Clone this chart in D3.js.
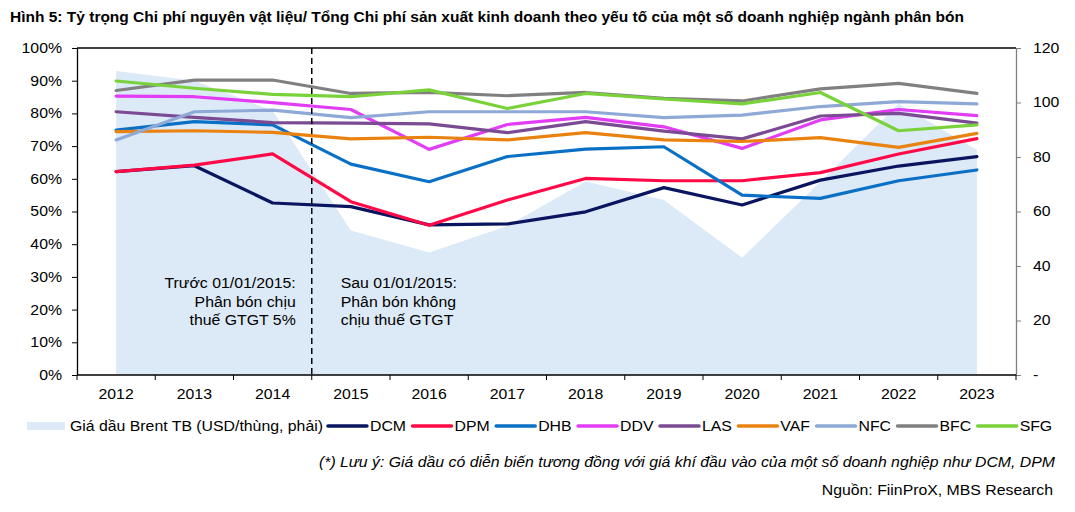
<!DOCTYPE html>
<html><head><meta charset="utf-8">
<script src="https://cdn.jsdelivr.net/npm/d3@7"></script>
<style>body{margin:0;background:#fff} text{font-family:"Liberation Sans",Arial,sans-serif;fill:#000}</style>
</head><body><svg id="c" width="1075" height="512"></svg>
<script>
const years = ["2012","2013","2014","2015","2016","2017","2018","2019","2020","2021","2022","2023"];
const brent = [111.6, 108, 97, 53, 45, 54.7, 71, 64.2, 43, 70.9, 99.5, 82.6];
const DCM = [62.2, 64.0, 52.6, 51.5, 45.9, 46.2, 49.9, 57.3, 52.0, 59.6, 63.9, 66.8];
const DPM = [62.2, 64.2, 67.6, 53.0, 45.8, 53.5, 60.1, 59.4, 59.4, 61.9, 67.6, 72.3];
const DHB = [74.9, 77.5, 76.5, 64.5, 59.1, 66.8, 69.1, 69.8, 55.0, 54.0, 59.4, 62.7];
const DDV = [85.3, 85.1, 83.3, 81.2, 69.0, 76.6, 78.8, 75.9, 69.3, 78.0, 81.2, 79.3];
const LAS = [80.5, 78.8, 77.2, 77.0, 76.8, 74.1, 77.5, 74.6, 72.2, 79.2, 80.0, 77.0];
const VAF = [74.4, 74.7, 74.2, 72.2, 72.7, 71.9, 74.1, 71.9, 71.4, 72.6, 69.6, 73.9];
const NFC = [71.9, 80.5, 81.0, 78.7, 80.5, 80.5, 80.5, 78.7, 79.5, 82.1, 83.6, 82.9];
const BFC = [87.0, 90.2, 90.2, 86.1, 86.4, 85.4, 86.4, 84.6, 83.8, 87.5, 89.2, 86.1];
const SFG = [89.9, 87.7, 85.8, 85.1, 87.2, 81.5, 86.1, 84.4, 82.9, 86.4, 74.7, 76.5];
const seriesNames = ["DCM","DPM","DHB","DDV","LAS","VAF","NFC","BFC","SFG"];
const seriesValues = [DCM, DPM, DHB, DDV, LAS, VAF, NFC, BFC, SFG];
const seriesColors = ["#0a1560","#ff0a46","#0a70c6","#e33cf5","#7a4b93","#ea8210","#8fa9d6","#808080","#7ad23a"];
const leftTicks = [0,10,20,30,40,50,60,70,80,90,100];
const rightTicks = [0,20,40,60,80,100,120];
const areaLabel = "Giá dầu Brent TB (USD/thùng, phải)";

const FS = 14, SX = 1.13;
function stretch(sel, f) {
  sel.each(function(){
    const w = this.getComputedTextLength();
    d3.select(this).attr("textLength", w*f).attr("lengthAdjust","spacingAndGlyphs");
  });
  return sel;
}

const svg = d3.select("#c");
const L = 77, R = 1016, T = 48, B = 375;
const x = d3.scaleBand().domain(years).range([L, R]);
const cx = d => x(d) + x.bandwidth()/2;
const yL = d3.scaleLinear().domain([0,100]).range([B, T]);
const yR = d3.scaleLinear().domain([0,120]).range([B, T]);

// title
stretch(svg.append("text").attr("x", 10).attr("y", 22).attr("font-size", 14).attr("font-weight", "bold")
  .text("Hình 5: Tỷ trọng Chi phí nguyên vật liệu/ Tổng Chi phí sản xuất kinh doanh theo yếu tố của một số doanh nghiệp ngành phân bón"), 1.107);

// area
svg.append("path").datum(brent)
  .attr("fill", "#dce9f7")
  .attr("d", d3.area().x((d,i)=>cx(years[i])).y0(B).y1(d=>yR(d)));

// lines
seriesValues.forEach((vals, k) => {
  svg.append("path").datum(vals)
    .attr("fill","none").attr("stroke", seriesColors[k]).attr("stroke-width", 3.2)
    .attr("stroke-linejoin","round").attr("stroke-linecap","round")
    .attr("d", d3.line().x((d,i)=>cx(years[i])).y(d=>yL(d)));
});

// dashed divider between 2014 and 2015
const xd = x("2015");
svg.append("line").attr("x1", xd).attr("x2", xd).attr("y1", T).attr("y2", B)
  .attr("stroke", "#000").attr("stroke-width", 1.5).attr("stroke-dasharray", "6,4");

// top border
svg.append("line").attr("x1", L).attr("x2", R).attr("y1", T).attr("y2", T).attr("stroke", "#000").attr("stroke-width", 1.3);

// left axis
const gl = svg.append("g").attr("transform", `translate(${L},0)`)
  .call(d3.axisLeft(yL).tickValues(leftTicks).tickFormat(d=>d+"%").tickSize(5).tickSizeOuter(0).tickPadding(10));
gl.selectAll("text").attr("font-size", FS).style("font-family", '"Liberation Sans",Arial,sans-serif');
stretch(gl.selectAll("text"), SX);
gl.select(".domain").attr("stroke","#000").attr("stroke-width",1.3);

// right axis
const gr = svg.append("g").attr("transform", `translate(${R},0)`)
  .call(d3.axisRight(yR).tickValues(rightTicks).tickFormat(d=>d===0?"-":d).tickSize(5).tickSizeOuter(0).tickPadding(12));
gr.selectAll("text").attr("font-size", FS).style("font-family", '"Liberation Sans",Arial,sans-serif');
stretch(gr.selectAll("text"), SX);
gr.select(".domain").attr("stroke","#7f7f7f").attr("stroke-width",1.3);
gr.selectAll(".tick line").attr("stroke","#7f7f7f");

// bottom axis
svg.append("line").attr("x1", L).attr("x2", R).attr("y1", B).attr("y2", B).attr("stroke","#000").attr("stroke-width",1.3);
const bounds = years.map(y=>x(y)).concat([R]);
svg.selectAll(".xt").data(bounds).enter().append("line")
  .attr("x1", d=>d).attr("x2", d=>d).attr("y1", B).attr("y2", B+5).attr("stroke","#000");
stretch(svg.selectAll(".xl").data(years).enter().append("text")
  .attr("x", d=>cx(d)).attr("y", 399).attr("text-anchor","middle").attr("font-size",FS).text(d=>d), SX);

// annotations
const annL = ["Trước 01/01/2015:", "Phân bón chịu", "thuế GTGT 5%"];
const annR = ["Sau 01/01/2015:", "Phân bón không", "chịu thuế GTGT"];
annL.forEach((t,i)=> stretch(svg.append("text").attr("x", xd-16).attr("y", 288+i*18.5).attr("text-anchor","end").attr("font-size",FS).text(t), SX));
annR.forEach((t,i)=> stretch(svg.append("text").attr("x", xd+29).attr("y", 288+i*18.5).attr("font-size",FS).text(t), SX));

// legend
let lx = 27; const ly = 426;
svg.append("rect").attr("x", lx).attr("y", ly-4).attr("width", 38).attr("height", 8).attr("fill", "#dce9f7");
lx += 43;
let t0 = svg.append("text").attr("x", lx).attr("y", ly+5).attr("font-size",FS).text(areaLabel);
let w0 = t0.node().getComputedTextLength();
stretch(t0, SX);
lx += w0*SX + 5;
seriesNames.forEach((n,k)=>{
  svg.append("line").attr("x1", lx).attr("x2", lx+39).attr("y1", ly).attr("y2", ly)
    .attr("stroke", seriesColors[k]).attr("stroke-width", 3.5).attr("stroke-linecap","round");
  lx += 42;
  const t = svg.append("text").attr("x", lx).attr("y", ly+5).attr("font-size",FS).text(n);
  const w = t.node().getComputedTextLength();
  stretch(t, SX);
  lx += w*SX + 6.5;
});

// footnotes
stretch(svg.append("text").attr("x", 1055).attr("y", 467).attr("text-anchor","end").attr("font-size",FS).attr("font-style","italic")
  .text("(*) Lưu ý: Giá dầu có diễn biến tương đồng với giá khí đầu vào của một số doanh nghiệp như DCM, DPM"), SX);
stretch(svg.append("text").attr("x", 1053).attr("y", 495).attr("text-anchor","end").attr("font-size",FS)
  .text("Nguồn: FiinProX, MBS Research"), SX);
</script></body></html>
